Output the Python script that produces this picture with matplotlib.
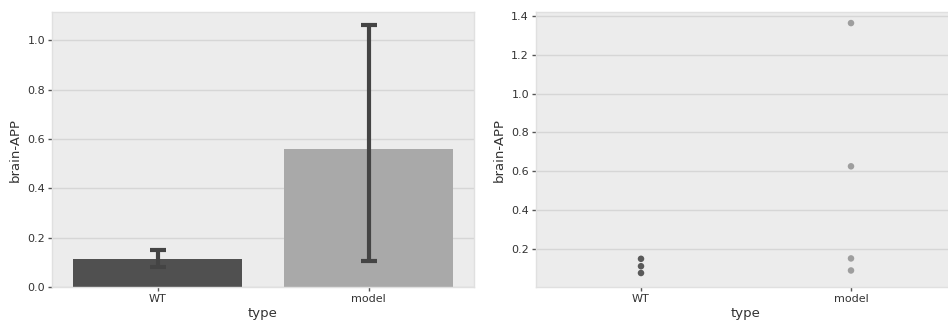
import numpy as np
import matplotlib.pyplot as plt

plt.rcParams['font.family'] = ['DejaVu Sans']

# data
types = ['WT', 'model']
wt_vals = [0.150, 0.112, 0.077]
model_vals = [1.363, 0.626, 0.152, 0.090]
ci_low = [0.082, 0.106]
ci_high = [0.148, 1.064]

bar_colors = ['#505050', '#a9a9a9']
dot_colors = ['#5a5a5a', '#9e9e9e']

means = [np.mean(wt_vals), np.mean(model_vals)]

fig = plt.figure(figsize=(9.48, 3.23), dpi=100)
W, H = 948, 323
ax1 = fig.add_axes([52 / W, 36 / H, 422 / W, 275 / H])
ax2 = fig.add_axes([536 / W, 36 / H, 420 / W, 275 / H])


def style(ax):
    ax.set_facecolor('#ececec')
    for s in ax.spines.values():
        s.set_color('#e0e0e0')
        s.set_linewidth(1.0)
    ax.grid(axis='y', color='#d6d6d6', linewidth=1.0)
    ax.set_axisbelow(True)
    ax.tick_params(length=3, width=1, color='#555555', labelsize=8,
                   labelcolor='#333333', pad=2)
    ax.set_xlabel('type', fontsize=9.5, color='#333333', labelpad=2)
    ax.set_ylabel('brain-APP', fontsize=9.5, color='#333333', labelpad=4)


x = np.arange(len(types))

# left: bar with error bars
ax1.bar(x, means, width=0.8, color=bar_colors, zorder=2)
yerr = [np.array(means) - np.array(ci_low), np.array(ci_high) - np.array(means)]
ax1.errorbar(x, means, yerr=yerr, fmt='none', ecolor='#444444',
             elinewidth=3, capsize=6, capthick=3, zorder=3)
ax1.set_xlim(-0.5, 1.5)
ax1.set_ylim(0, 1.115)
ax1.set_yticks([0.0, 0.2, 0.4, 0.6, 0.8, 1.0])
ax1.set_xticks(x)
ax1.set_xticklabels(types)
style(ax1)

# right: strip of points
for i, vals in enumerate([wt_vals, model_vals]):
    ax2.scatter([i] * len(vals), vals, s=22, color=dot_colors[i],
                edgecolor='none', zorder=3)
ax2.set_xlim(-0.5, 1.5)
ax2.set_ylim(0.005, 1.42)
ax2.set_yticks([0.2, 0.4, 0.6, 0.8, 1.0, 1.2, 1.4])
ax2.set_xticks(x)
ax2.set_xticklabels(types)
style(ax2)

fig.savefig('out.png', dpi=100)
